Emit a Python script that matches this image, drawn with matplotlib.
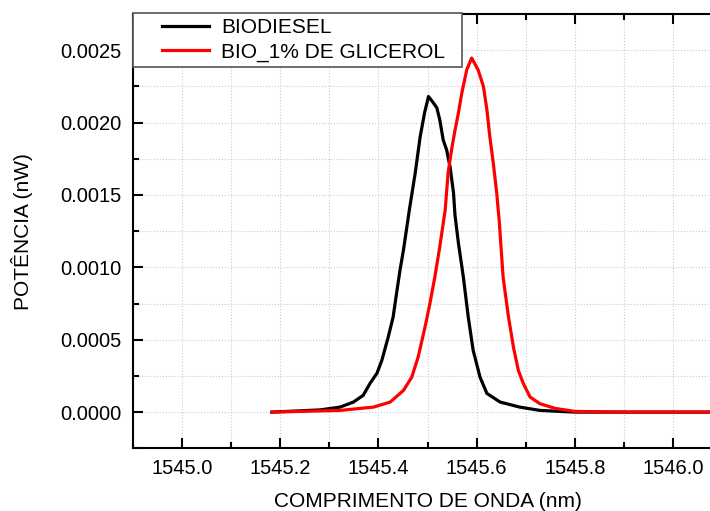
import matplotlib
matplotlib.use("Agg")
import matplotlib.pyplot as plt
import numpy as np
from matplotlib.lines import Line2D
from matplotlib.legend_handler import HandlerLine2D
from matplotlib.ticker import MultipleLocator, FormatStrFormatter

plt.rcParams['font.family'] = ['Liberation Sans', 'DejaVu Sans']

# BIODIESEL spectrum (nm, nW)
bio_wl = [1545.183, 1545.281, 1545.322, 1545.349, 1545.369, 1545.383, 1545.397,
          1545.407, 1545.420, 1545.430, 1545.437, 1545.444, 1545.451, 1545.458,
          1545.463, 1545.475, 1545.485, 1545.494, 1545.502, 1545.512, 1545.519,
          1545.525, 1545.532, 1545.539, 1545.546, 1545.553, 1545.556, 1545.563,
          1545.573, 1545.583, 1545.593, 1545.607, 1545.621, 1545.648, 1545.688,
          1545.729, 1545.800, 1546.100]
bio_pw = [0.0, 0.0000152, 0.0000346, 0.0000692, 0.000116, 0.000199, 0.000268,
          0.000358, 0.000519, 0.000657, 0.000821, 0.000981, 0.001119, 0.001280,
          0.001396, 0.001652, 0.001901, 0.002067, 0.002180, 0.002136, 0.002102,
          0.002019, 0.001880, 0.001811, 0.001693, 0.001514, 0.001361, 0.001167,
          0.000934, 0.000657, 0.000427, 0.000242, 0.000129, 0.0000692, 0.0000346,
          0.0000118, 0.0, 0.0]

# BIO_1% DE GLICEROL spectrum (nm, nW)
gli_wl = [1545.183, 1545.322, 1545.390, 1545.424, 1545.451, 1545.468, 1545.481,
          1545.495, 1545.505, 1545.515, 1545.525, 1545.536, 1545.542, 1545.549,
          1545.555, 1545.563, 1545.570, 1545.580, 1545.590, 1545.603, 1545.614,
          1545.621, 1545.627, 1545.634, 1545.641, 1545.646, 1545.654, 1545.665,
          1545.675, 1545.685, 1545.695, 1545.709, 1545.729, 1545.760, 1545.800,
          1545.900, 1546.100]
gli_pw = [0.0, 0.0000118, 0.0000346, 0.0000692, 0.000150, 0.000242, 0.000381,
          0.000588, 0.000752, 0.000934, 0.001142, 0.001396, 0.001652, 0.001811,
          0.001929, 0.002067, 0.002206, 0.002365, 0.002446, 0.002365, 0.002249,
          0.002088, 0.001903, 0.001721, 0.001514, 0.001327, 0.000934, 0.000657,
          0.000450, 0.000289, 0.000199, 0.000104, 0.0000581, 0.0000256, 0.000005,
          0.0, 0.0]


class OffsetLine(HandlerLine2D):
    # legend line drawn only on the right part of the handle box
    def create_artists(self, legend, orig_handle, xdescent, ydescent, width,
                       height, fontsize, trans):
        arts = super().create_artists(legend, orig_handle, xdescent, ydescent,
                                      width, height, fontsize, trans)
        for a in arts:
            xd = np.asarray(a.get_xdata(), dtype=float)
            if isinstance(a, Line2D) and len(xd) >= 2:
                x0, x1 = xd[0], xd[-1]
                a.set_xdata(np.linspace(x0 + 0.34 * (x1 - x0), x1, len(xd)))
        return arts


fig = plt.figure(figsize=(7.1, 5.11), dpi=100)
# axes runs past the right edge of the canvas, as in the original export
ax = fig.add_axes([133 / 710, 62.7 / 511, 589 / 710, 434.3 / 511])

ax.plot(bio_wl, bio_pw, color='black', lw=2.3, label='BIODIESEL', zorder=3)
ax.plot(gli_wl, gli_pw, color='#ff0000', lw=2.3, label='BIO_1% DE GLICEROL', zorder=4)

ax.set_xlim(1544.9, 1546.1)
ax.set_ylim(-0.00025, 0.00275)
ax.xaxis.set_major_locator(MultipleLocator(0.2))
ax.xaxis.set_minor_locator(MultipleLocator(0.1))
ax.yaxis.set_major_locator(MultipleLocator(0.0005))
ax.yaxis.set_minor_locator(MultipleLocator(0.00025))
ax.xaxis.set_major_formatter(FormatStrFormatter('%.1f'))
ax.yaxis.set_major_formatter(FormatStrFormatter('%.4f'))

ax.grid(True, which='both', color='#cccccc', linestyle=':', linewidth=0.8)
ax.tick_params(which='both', direction='in', top=True, right=True,
               labelsize=14.5, width=1.5, pad=8)
ax.tick_params(which='major', length=7)
ax.tick_params(which='minor', length=4)
for sp in ax.spines.values():
    sp.set_linewidth(1.5)

ax.set_xlabel('COMPRIMENTO DE ONDA (nm)', fontsize=15, labelpad=9.5)
ax.set_ylabel('POTÊNCIA (nW)', fontsize=15, labelpad=20)

leg = ax.legend(loc='upper left', bbox_to_anchor=(0, 1.002, 329 / 589, 0),
                mode='expand', borderaxespad=0, fontsize=15, fancybox=False,
                framealpha=1, edgecolor='#555555', handlelength=3.4,
                handletextpad=0.58, borderpad=0.25, labelspacing=0.24,
                handler_map={Line2D: OffsetLine()})
leg.get_frame().set_linewidth(1.2)
leg.set_zorder(10)

fig.savefig('out.png', dpi=100)
